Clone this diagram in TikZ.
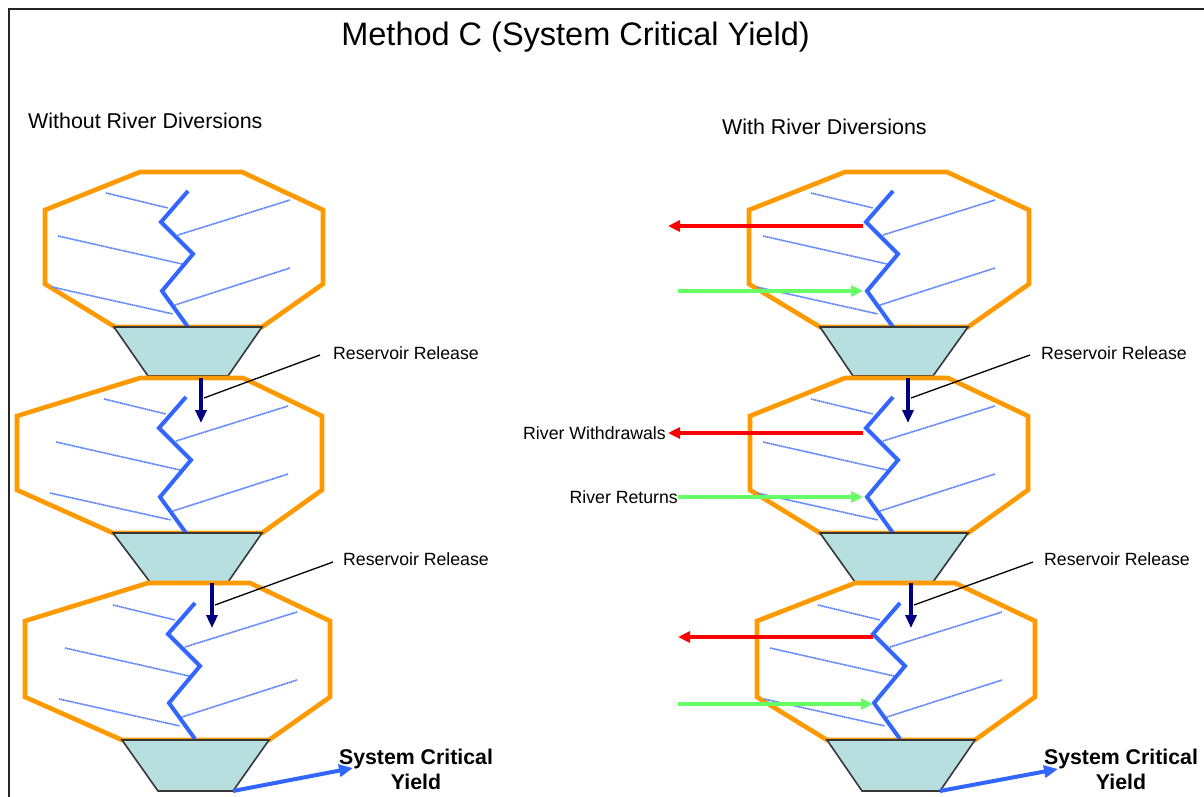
\documentclass[tikz,border=0pt]{standalone}
\usepackage{fontspec}
\setmainfont{Liberation Sans}
\usetikzlibrary{arrows.meta}

\definecolor{basinorange}{RGB}{255,153,0}
\definecolor{riverblue}{RGB}{51,102,255}
\definecolor{hatchblue}{RGB}{90,130,255}
\definecolor{damfill}{RGB}{183,223,224}
\definecolor{damedge}{RGB}{55,55,55}
\definecolor{releasenavy}{RGB}{0,0,128}
\definecolor{withdrawred}{RGB}{255,0,0}
\definecolor{returngreen}{RGB}{102,255,102}

% basin outline: xL, xR, yTop, yBottom, top-left x, top-right x, bottom-left x, bottom-right x
\newcommand{\basinoutline}[8]{%
  \draw[basin] (#5,#3) -- (#6,#3) -- (#2,#3+38) -- (#2,#4-43) -- (#8,#4)
    -- (#7,#4) -- (#1,#4-43) -- (#1,#3+38) -- cycle;}
% reservoir dam: top-left x, top-right x, top y, bottom-left x, bottom-right x, bottom y
\newcommand{\reservoirdam}[6]{%
  \draw[dam] (#1,#3) -- (#2,#3) -- (#5,#6) -- (#4,#6) -- cycle;}

\tikzset{
  basin/.style={draw=basinorange, line width=4.6pt, line join=miter, fill=white},
  dam/.style={draw=damedge, line width=1.6pt, fill=damfill, line join=miter},
  riverline/.style={draw=riverblue, line width=4pt, line join=miter},
  hatch/.style={draw=hatchblue, line width=1.6pt, dash pattern=on 1.5pt off 0.5pt},
  release/.style={draw=releasenavy, line width=4pt,
    -{Triangle[width=11pt,length=13pt]}},
  withdraw/.style={draw=withdrawred, line width=4pt,
    -{Triangle[width=11pt,length=12pt]}},
  returnflow/.style={draw=returngreen, line width=4pt,
    -{Triangle[width=11pt,length=12pt]}},
  yieldarrow/.style={draw=riverblue, line width=4pt,
    -{Triangle[width=12pt,length=14pt]}},
  leader/.style={draw=black, line width=1.3pt},
  title/.style={font=\fontsize{32.5}{38}\selectfont, inner sep=0pt},
  subhead/.style={font=\fontsize{21.4}{25}\selectfont, inner sep=0pt},
  lbl/.style={font=\fontsize{17.7}{21}\selectfont, inner sep=0pt},
  yieldlbl/.style={font=\bfseries\fontsize{21.3}{25}\selectfont, inner sep=0pt, align=center},
  river/.pic={
    \draw[hatch] (-82,2) -- (-20,17);
    \draw[hatch] (-10,44) -- (102,9);
    \draw[hatch] (-130,45) -- (-6,73);
    \draw[hatch] (-13,114) -- (102,77);
    \draw[hatch] (-136,96) -- (-15,123);
    \draw[riverline] (0,0) -- (-27,31) -- (5,63) -- (-26,100) -- (0,136);
  }
}

\begin{document}
\begin{tikzpicture}[x=1pt, y=-1pt]
\useasboundingbox (0,0) rectangle (1204,797);
\fill[white] (0,0) rectangle (1204,797);

% frame
\draw[black!85, line width=2pt] (9,800) -- (9,9) -- (1210,9);

% headings
\node[title] (title) at (575.5,37) {Method C (System Critical Yield)};
\node[subhead, anchor=west] (subL) at (28,121) {Without River Diversions};
\node[subhead, anchor=west] (subR) at (722,127) {With River Diversions};

% ---- left column: reservoirs without diversions ----
\basinoutline{45}{323}{172}{327}{140}{242}{115}{262}
\pic at (188,191) {river};
\reservoirdam{114}{262}{327}{148}{228}{376}

\basinoutline{17}{322}{378}{533}{140}{243}{113}{262}
\pic at (186,397) {river};
\reservoirdam{113}{262}{533}{150}{228}{582}

\basinoutline{25}{330}{583}{740}{148}{250}{122}{269}
\pic at (195,603) {river};
\reservoirdam{122}{269}{740}{158}{233}{791}

% ---- right column: reservoirs with diversions ----
\basinoutline{749}{1029}{172}{327}{845}{947}{820}{968}
\pic at (893,191) {river};
\reservoirdam{820}{968}{327}{853}{933}{376}

\basinoutline{750}{1028}{378}{533}{845}{948}{820}{968}
\pic at (893,397) {river};
\reservoirdam{820}{968}{533}{855}{933}{582}

\basinoutline{757}{1035}{583}{740}{855}{955}{827}{975}
\pic at (900,603) {river};
\reservoirdam{827}{975}{740}{862}{940}{791}

% ---- reservoir releases ----
\coordinate (relLaS) at (201,378); \coordinate (relLaE) at (201,423);
\coordinate (relLbS) at (212,583); \coordinate (relLbE) at (212,628);
\coordinate (relRaS) at (908,378); \coordinate (relRaE) at (908,423);
\coordinate (relRbS) at (911,583); \coordinate (relRbE) at (911,628);
\draw[release] (relLaS) -- (relLaE);
\draw[release] (relLbS) -- (relLbE);
\draw[release] (relRaS) -- (relRaE);
\draw[release] (relRbS) -- (relRbE);

\node[lbl, anchor=west] (relLaT) at (333,353) {Reservoir Release};
\node[lbl, anchor=west] (relLbT) at (343,559) {Reservoir Release};
\node[lbl, anchor=west] (relRaT) at (1041,353) {Reservoir Release};
\node[lbl, anchor=west] (relRbT) at (1044,559) {Reservoir Release};
\coordinate (ldLa1) at (204,398); \coordinate (ldLa2) at (320,355);
\coordinate (ldLb1) at (215,605); \coordinate (ldLb2) at (333,562);
\coordinate (ldRa1) at (911,398); \coordinate (ldRa2) at (1030,355);
\coordinate (ldRb1) at (914,605); \coordinate (ldRb2) at (1033,562);
\draw[leader] (ldLa1) -- (ldLa2);
\draw[leader] (ldLb1) -- (ldLb2);
\draw[leader] (ldRa1) -- (ldRa2);
\draw[leader] (ldRb1) -- (ldRb2);

% ---- river withdrawals and returns ----
\node[lbl, anchor=east] (wdT) at (666,433) {River Withdrawals};
\node[lbl, anchor=east] (rtT) at (678,497) {River Returns};

\coordinate (wdA) at (863,226); \coordinate (wdAtip) at (668,226);
\coordinate (wdB) at (863,433);
\coordinate (wdC) at (873,637); \coordinate (wdCtip) at (678,637);
\draw[withdraw] (wdA) -- (wdAtip);
\draw[withdraw] (wdB) -- ([xshift=2pt]wdT.east);
\draw[withdraw] (wdC) -- (wdCtip);

\coordinate (rtA) at (678,291); \coordinate (rtAtip) at (863,291);
\coordinate (rtBtip) at (863,497);
\coordinate (rtC) at (678,704); \coordinate (rtCtip) at (873,704);
\draw[returnflow] (rtA) -- (rtAtip);
\draw[returnflow] (rtT.east) -- (rtBtip);
\draw[returnflow] (rtC) -- (rtCtip);

% ---- system critical yield ----
\node[yieldlbl] (yieldL) at (416,769.5) {System Critical\\Yield};
\node[yieldlbl] (yieldR) at (1121,769.5) {System Critical\\Yield};
\coordinate (yLs) at (233,791); \coordinate (yLe) at (353,768);
\coordinate (yRs) at (940,791); \coordinate (yRe) at (1058,769);
\draw[yieldarrow] (yLs) -- (yLe);
\draw[yieldarrow] (yRs) -- (yRe);
\end{tikzpicture}
\end{document}
